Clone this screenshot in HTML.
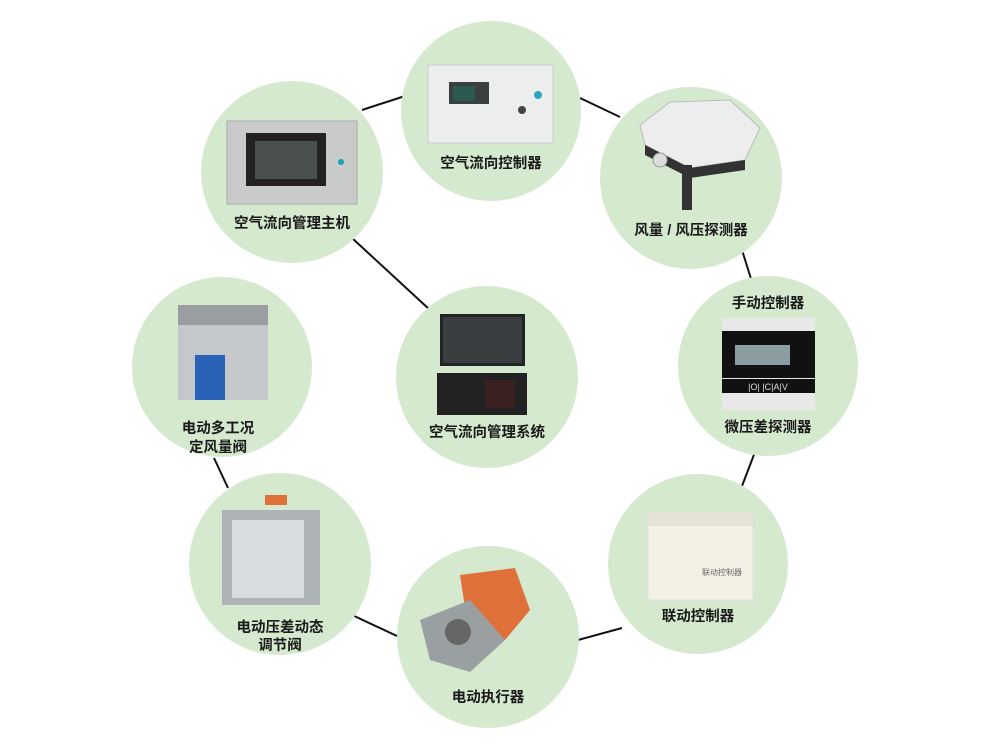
<!DOCTYPE html>
<html><head><meta charset="utf-8"><style>
html,body{margin:0;padding:0;background:#fff}
body{width:992px;height:741px;overflow:hidden}
text{font-family:"Liberation Sans","Noto Sans CJK SC",sans-serif;font-size:14.5px;font-weight:bold;fill:#1a1a1a;text-anchor:middle}
</style></head><body>
<svg width="992" height="741" viewBox="0 0 992 741" xmlns="http://www.w3.org/2000/svg">
<rect width="992" height="741" fill="#fff"/>
<g stroke="#111" stroke-width="2" fill="none">
<line x1="362" y1="110" x2="405" y2="96"/>
<line x1="580" y1="98" x2="620" y2="117"/>
<line x1="742" y1="250" x2="752" y2="282"/>
<line x1="755" y1="452" x2="742" y2="486"/>
<line x1="622" y1="628" x2="578" y2="640"/>
<line x1="397" y1="636" x2="352" y2="615"/>
<line x1="214" y1="458" x2="228" y2="488"/>
<line x1="352" y1="238" x2="430" y2="310"/>
</g>
<g fill="#d5e9ce">
<circle cx="491" cy="111" r="90"/>
<circle cx="292" cy="172" r="91"/>
<circle cx="691" cy="178" r="91"/>
<circle cx="768" cy="366" r="90"/>
<circle cx="698" cy="564" r="90"/>
<circle cx="488" cy="637" r="91"/>
<circle cx="280" cy="564" r="91"/>
<circle cx="222" cy="367" r="90"/>
<circle cx="487" cy="377" r="91"/>
</g>
<rect x="428" y="65" width="125" height="78" fill="#eceeee" stroke="#ccc"/>
<rect x="449" y="82" width="40" height="22" fill="#3b3f3f"/>
<rect x="453" y="86" width="22" height="15" fill="#2c5a52"/>
<circle cx="538" cy="95" r="4" fill="#2aa6c0"/>
<circle cx="522" cy="110" r="4" fill="#444"/>
<rect x="227" y="121" width="130" height="83" fill="#c9cbcb" stroke="#aaa"/>
<rect x="246" y="133" width="80" height="53" fill="#222"/>
<rect x="255" y="141" width="62" height="38" fill="#4a4f4f"/>
<circle cx="341" cy="162" r="3" fill="#1aa0b8"/>
<polygon points="640,125 670,102 730,100 760,128 745,160 690,168 645,145" fill="#eceeee" stroke="#bbb"/>
<polygon points="645,145 690,168 745,160 745,170 690,178 645,155" fill="#333"/>
<rect x="682" y="165" width="10" height="45" fill="#333"/>
<circle cx="660" cy="160" r="7" fill="#ddd" stroke="#999"/>
<rect x="722" y="318" width="93" height="92" fill="#e8e8e8"/>
<rect x="722" y="331" width="93" height="47" fill="#111"/>
<rect x="735" y="345" width="55" height="20" fill="#8a9ea2"/>
<rect x="722" y="379" width="93" height="14" fill="#111"/>
<text x="768" y="390" style="font-size:9px;font-weight:normal;fill:#ddd">|O|  |C|A|V</text>
<rect x="648" y="512" width="105" height="88" fill="#f3f1e6" stroke="#ddd"/>
<rect x="648" y="512" width="105" height="14" fill="#e5e3d8"/>
<text x="722" y="575" style="font-size:8px;font-weight:normal;fill:#666">联动控制器</text>
<polygon points="460,575 515,568 530,610 505,640 470,640" fill="#e0703a"/>
<polygon points="420,620 470,600 505,640 470,672 430,660" fill="#9aa0a2"/>
<circle cx="458" cy="632" r="13" fill="#666"/>
<rect x="222" y="510" width="98" height="95" fill="#aeb3b6"/>
<rect x="232" y="520" width="72" height="78" fill="#d8dcde"/>
<rect x="265" y="495" width="22" height="10" fill="#e0703a"/>
<rect x="178" y="305" width="90" height="20" fill="#9a9ea0"/>
<rect x="178" y="325" width="90" height="75" fill="#c4c8ca"/>
<rect x="195" y="355" width="30" height="45" fill="#2a62b8"/>
<rect x="440" y="314" width="85" height="52" fill="#222"/>
<rect x="443" y="317" width="79" height="46" fill="#3a3e40"/>
<rect x="437" y="373" width="90" height="42" fill="#222"/>
<rect x="485" y="380" width="30" height="28" fill="#3a2020"/>
<text x="491" y="168">空气流向控制器</text>
<text x="292" y="228">空气流向管理主机</text>
<text x="691" y="235">风量 / 风压探测器</text>
<text x="768" y="308">手动控制器</text>
<text x="768" y="432">微压差探测器</text>
<text x="698" y="621">联动控制器</text>
<text x="488" y="702">电动执行器</text>
<text x="280" y="632">电动压差动态</text>
<text x="280" y="650">调节阀</text>
<text x="218" y="433">电动多工况</text>
<text x="218" y="452">定风量阀</text>
<text x="487" y="437">空气流向管理系统</text>
</svg>
</body></html>
